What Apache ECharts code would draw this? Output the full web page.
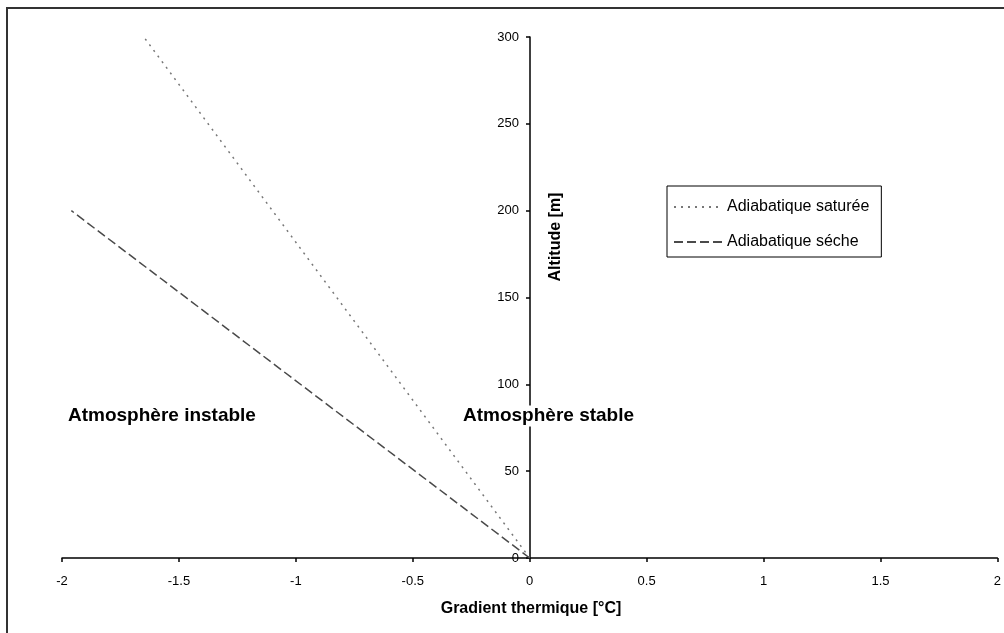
<!DOCTYPE html>
<html>
<head>
<meta charset="utf-8">
<script src="https://cdn.jsdelivr.net/npm/echarts@6/dist/echarts.min.js"></script>
<style>
  html, body { margin: 0; padding: 0; background: #fff; }
  #chart { width: 1004px; height: 633px; }
</style>
</head>
<body>
<div id="chart"></div>
<script>
// gradient thermique [°C] vs altitude [m]
const seriesNames = ['Adiabatique saturée', 'Adiabatique séche'];
const saturee = [[0, 0], [-1.65, 300]];
const seche = [[0, 0], [-1.96, 200]];
const xTicks = {min: -2, max: 2, interval: 0.5};
const yTicks = {min: 0, max: 300, interval: 50};

const font = 'Liberation Sans, Arial, sans-serif';
const gridLeft = 62, gridRight = 6;
const chartWidth = 1004;
const chart = echarts.init(document.getElementById('chart'));

// l'axe des altitudes passe par x = 0 : on décale tout l'axe (ligne, graduations, libellés)
const zeroPx = gridLeft + (0 - xTicks.min) / (xTicks.max - xTicks.min) * (chartWidth - gridLeft - gridRight);

const option = {
  backgroundColor: '#fff',
  animation: false,
  grid: {left: gridLeft, right: gridRight, top: 37, bottom: 75},
  legend: {
    orient: 'vertical',
    left: 667,
    top: 186,
    padding: [13, 12, 7, 6],
    itemWidth: 48,
    itemHeight: 14,
    itemGap: 19,
    borderColor: '#000',
    borderWidth: 1,
    itemStyle: {opacity: 0},
    textStyle: {fontFamily: font, fontSize: 16, color: '#000'},
    data: seriesNames
  },
  xAxis: {
    type: 'value',
    min: xTicks.min,
    max: xTicks.max,
    interval: xTicks.interval,
    splitLine: {show: false},
    axisLine: {lineStyle: {color: '#000', width: 1.5}},
    axisTick: {length: 4, lineStyle: {color: '#000', width: 1.5}},
    axisLabel: {margin: 17, fontFamily: font, fontSize: 13, color: '#000'}
  },
  yAxis: {
    type: 'value',
    position: 'left',
    offset: -(zeroPx - gridLeft),
    min: yTicks.min,
    max: yTicks.max,
    interval: yTicks.interval,
    splitLine: {show: false},
    axisLine: {onZero: false, lineStyle: {color: '#000', width: 1.5}},
    axisTick: {length: 4, lineStyle: {color: '#000', width: 1.5}},
    axisLabel: {margin: 11, fontFamily: font, fontSize: 13, color: '#000'}
  },
  series: [
    {
      name: seriesNames[0],
      type: 'line',
      symbol: 'none',
      data: saturee,
      lineStyle: {color: '#777', width: 1.5, type: [2, 5]}
    },
    {
      name: seriesNames[1],
      type: 'line',
      symbol: 'none',
      data: seche,
      lineStyle: {color: '#4a4a4a', width: 1.5, type: [9, 4]}
    }
  ],
  graphic: [
    // cadre
    {
      type: 'polyline',
      shape: {points: [[7, 640], [7, 8], [1010, 8]]},
      style: {stroke: '#333', lineWidth: 2, fill: null},
      z: 1
    },
    {
      type: 'text',
      x: 531, y: 609,
      style: {text: 'Gradient thermique [°C]', font: 'bold 16px ' + font, fill: '#000', align: 'center', verticalAlign: 'middle'}
    },
    {
      type: 'text',
      x: 556, y: 237,
      rotation: Math.PI / 2,
      style: {text: 'Altitude [m]', font: 'bold 16px ' + font, fill: '#000', align: 'center', verticalAlign: 'middle'}
    },
    {
      type: 'text',
      x: 68, y: 416,
      style: {text: 'Atmosphère instable', font: 'bold 19px ' + font, fill: '#000', align: 'left', verticalAlign: 'middle'}
    },
    {
      type: 'text',
      x: 462, y: 416,
      z: 100,
      style: {text: 'Atmosphère stable', font: 'bold 19px ' + font, fill: '#000', align: 'left', verticalAlign: 'middle',
        backgroundColor: '#fff', padding: [1, 1]}
    }
  ]
};

chart.setOption(option);
</script>
</body>
</html>
